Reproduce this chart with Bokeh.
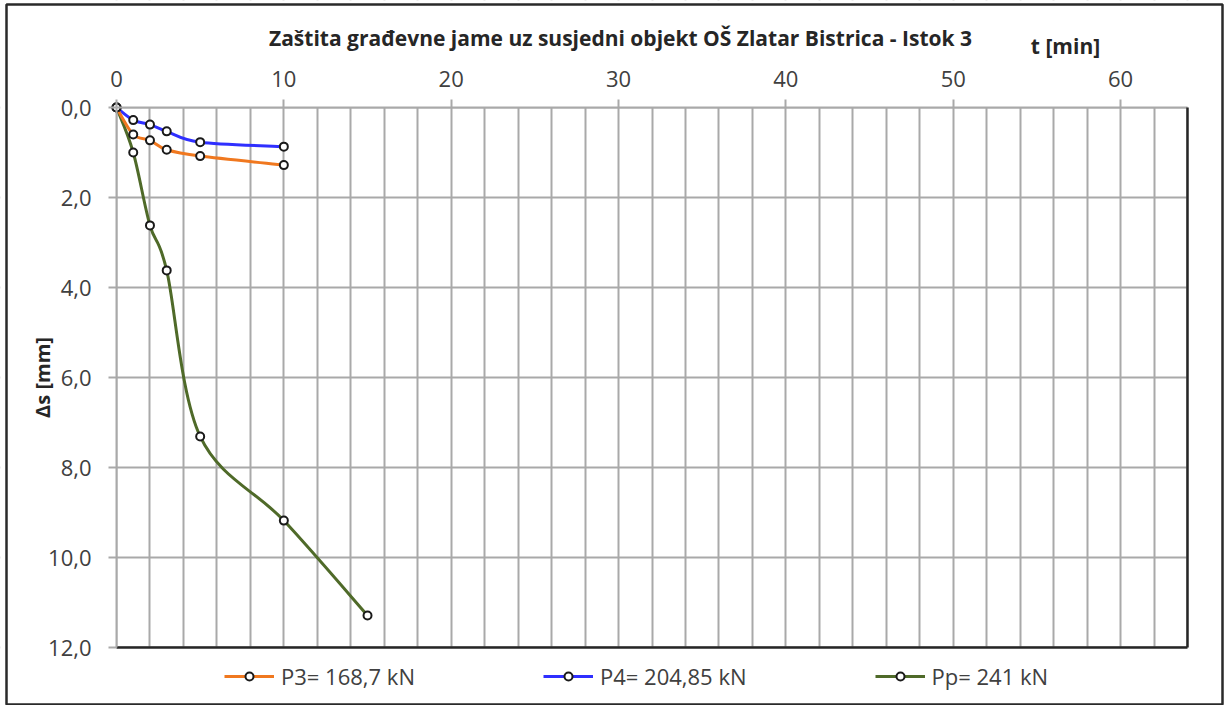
import numpy as np
from bokeh.plotting import figure
from bokeh.models import (Range1d, LinearAxis, FixedTicker, SingleIntervalTicker,
                          Label, Legend, LegendItem, BoxAnnotation)
from bokeh.embed import file_html
from bokeh.resources import INLINE

# ---- data ----
title_text = "Zaštita građevne jame uz susjedni objekt OŠ Zlatar Bistrica - Istok 3"
x_label = "t [min]"
y_label = "Δs [mm]"

t_p3 = [0, 1, 2, 3, 5, 10]
s_p3 = [0.0, 0.60, 0.73, 0.94, 1.08, 1.28]

t_p4 = [0, 1, 2, 3, 5, 10]
s_p4 = [0.0, 0.28, 0.38, 0.53, 0.77, 0.87]

t_pp = [0, 1, 2, 3, 5, 10, 15]
s_pp = [0.0, 1.00, 2.62, 3.62, 7.31, 9.18, 11.29]

series_names = ["P3= 168,7 kN", "P4= 204,85 kN", "Pp= 241 kN"]
series_colors = ["#f0781f", "#2f2fff", "#4f6a29"]

x_ticks = [0, 10, 20, 30, 40, 50, 60]
y_ticks = [0, 2, 4, 6, 8, 10, 12]
y_tick_labels = ["0,0", "2,0", "4,0", "6,0", "8,0", "10,0", "12,0"]
x_max, y_max = 64, 12

# ---- layout / style ----
FONT = "Open Sans"
TXT = "#404040"
DARK = "#262626"
GRID = "#a9a9a9"
W, H = 1224, 705
PX_L, PX_R, PX_T, PX_B = 116, 1187, 107, 647   # plot area in canvas pixels

kx = (PX_R - PX_L) / x_max
ky = (PX_B - PX_T) / y_max
x_range = Range1d(-PX_L / kx, x_max + (W - PX_R) / kx)
y_range = Range1d(y_max + (H - PX_B) / ky, -PX_T / ky)

p = figure(width=W, height=H, x_range=x_range, y_range=y_range,
           x_axis_location="above", y_axis_location="left",
           output_backend="svg", toolbar_location=None,
           min_border_left=0, min_border_right=0, min_border_top=0, min_border_bottom=0)
p.outline_line_color = None
p.background_fill_color = "white"
p.border_fill_color = "white"

# top x axis fixed at s = 0
xa = p.xaxis[0]
xa.fixed_location = 0
xa.bounds = (0, x_max)
xa.ticker = FixedTicker(ticks=x_ticks)
xa.major_tick_out = 8
xa.major_tick_in = 0
xa.minor_tick_line_color = None
xa.axis_line_color = GRID
xa.axis_line_width = 2
xa.major_tick_line_color = GRID
xa.major_tick_line_width = 2
xa.major_label_text_font = FONT
xa.major_label_text_font_size = "22px"
xa.major_label_text_color = TXT
xa.major_label_standoff = 13

# left y axis fixed at t = 0
ya = p.yaxis[0]
ya.fixed_location = 0
ya.bounds = (0, y_max)
ya.ticker = FixedTicker(ticks=y_ticks)
ya.major_label_overrides = {float(k): v for k, v in zip(y_ticks, y_tick_labels)}
ya.major_tick_out = 8
ya.major_tick_in = 0
ya.minor_tick_line_color = None
ya.axis_line_color = GRID
ya.axis_line_width = 2
ya.major_tick_line_color = GRID
ya.major_tick_line_width = 2
ya.major_label_text_font = FONT
ya.major_label_text_font_size = "22px"
ya.major_label_text_color = TXT
ya.major_label_standoff = 17
ya.axis_label = y_label
ya.axis_label_text_font = FONT
ya.axis_label_text_font_style = "bold"
ya.axis_label_text_font_size = "20px"
ya.axis_label_text_color = DARK
ya.axis_label_standoff = -11

# dark bottom and right edges of the plot area
p.add_layout(LinearAxis(fixed_location=y_max, bounds=(0, x_max), ticker=FixedTicker(ticks=[]),
                        axis_line_color=DARK, axis_line_width=2.5,
                        major_tick_line_color=None, minor_tick_line_color=None,
                        major_label_text_font_size="0px"), "below")
p.add_layout(LinearAxis(fixed_location=x_max, bounds=(0, y_max), ticker=FixedTicker(ticks=[]),
                        axis_line_color=DARK, axis_line_width=2.5,
                        major_tick_line_color=None, minor_tick_line_color=None,
                        major_label_text_font_size="0px"), "right")

# grids
p.xgrid.ticker = SingleIntervalTicker(interval=2)
p.xgrid.grid_line_color = GRID
p.xgrid.grid_line_width = 2
p.ygrid.ticker = FixedTicker(ticks=y_ticks)
p.ygrid.grid_line_color = GRID
p.ygrid.grid_line_width = 2

# white masks so the grid stays inside the plot area
for kw in (dict(bottom=0), dict(top=y_max), dict(right=0), dict(left=x_max)):
    p.add_layout(BoxAnnotation(**kw, fill_color="white", fill_alpha=1, line_alpha=0,
                               level="underlay"))


def smooth_segments(x, y):
    x = np.asarray(x, float)
    y = np.asarray(y, float)
    xp = np.concatenate([[x[0]], x, [x[-1]]])
    yp = np.concatenate([[y[0]], y, [y[-1]]])
    x0, y0 = x[:-1], y[:-1]
    x1, y1 = x[1:], y[1:]
    cx0 = x0 + (xp[2:-1] - xp[:-3]) / 6.0
    cy0 = y0 + (yp[2:-1] - yp[:-3]) / 6.0
    cx1 = x1 - (xp[3:] - xp[1:-2]) / 6.0
    cy1 = y1 - (yp[3:] - yp[1:-2]) / 6.0
    return dict(x0=x0, y0=y0, x1=x1, y1=y1, cx0=cx0, cy0=cy0, cx1=cx1, cy1=cy1)


all_series = [(t_p3, s_p3), (t_p4, s_p4), (t_pp, s_pp)]
draw_order = [2, 1, 0]
line_r = {}
for idx in draw_order:
    tx, sy = all_series[idx]
    col = series_colors[idx]
    p.bezier(**smooth_segments(tx, sy), line_color=col, line_width=3)
    line_r[idx] = p.line(tx, sy, line_color=col, line_width=3, visible=False)
scat_r = {}
for idx in draw_order:
    tx, sy = all_series[idx]
    scat_r[idx] = p.scatter(tx, sy, size=8, fill_color="white", line_color="#1a1a1a", line_width=2)

items = [LegendItem(label=name, renderers=[line_r[i], scat_r[i]])
         for i, name in enumerate(series_names)]

legend = Legend(items=items, orientation="horizontal", location=(224, 14),
                glyph_width=50, glyph_height=20, label_standoff=7, spacing=128,
                padding=6, margin=0, border_line_color=None, background_fill_alpha=0,
                label_text_font=FONT, label_text_font_size="22px", label_text_color=TXT)
p.add_layout(legend)

# title and x-axis label
p.add_layout(Label(x=620, y=H - 37, x_units="screen", y_units="screen", text=title_text,
                   text_align="center", text_baseline="middle", text_font=FONT,
                   text_font_style="bold", text_font_size="21px", text_color=DARK))
p.add_layout(Label(x=1065, y=H - 45, x_units="screen", y_units="screen", text=x_label,
                   text_align="center", text_baseline="middle", text_font=FONT,
                   text_font_style="bold", text_font_size="21px", text_color=DARK))

# outer chart border
p.add_layout(BoxAnnotation(left=6, right=W - 2, top=4, bottom=H - 1,
                           left_units="canvas", right_units="canvas",
                           top_units="canvas", bottom_units="canvas",
                           fill_alpha=0, line_color="#2a2a2a", line_alpha=1, line_width=2.5))

open("out.html", "w").write(file_html(p, INLINE))
